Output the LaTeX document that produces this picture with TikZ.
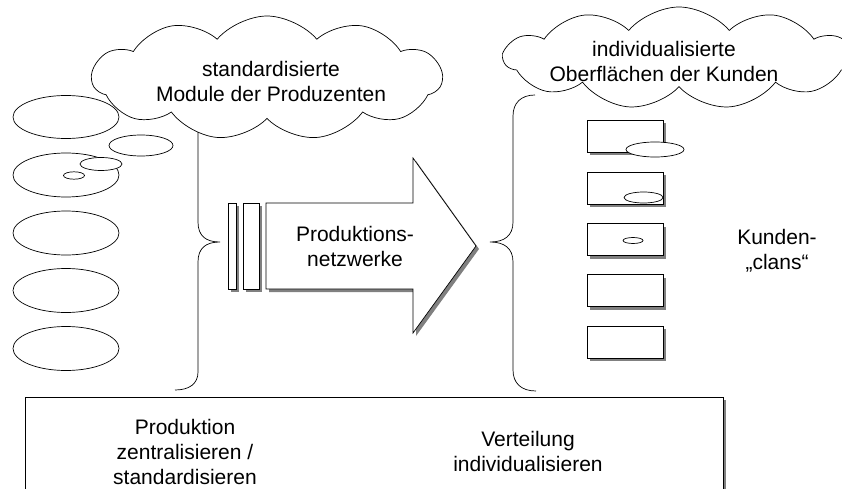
\documentclass[tikz,border=0pt]{standalone}
\usepackage{fontspec}
\setmainfont{Liberation Sans}
\usetikzlibrary{shapes.symbols,shadows}
\tikzset{
  lbl/.style={align=center,font=\fontsize{21}{25}\selectfont,inner sep=0pt},
  modul/.style={draw,fill=white},
  wolke/.style={cloud,cloud puffs=11,cloud puff arc=100,draw,fill=white,inner sep=0pt},
  schatten/.style={general shadow={fill=black!50,shadow xshift=3pt,shadow yshift=-3pt}},
  kunde/.style={draw,fill=white,schatten,minimum width=76pt,minimum height=32pt,inner sep=0pt},
}
\begin{document}
\begin{tikzpicture}[scale=1.000000,x=1pt,y=-1pt,line width=0.7pt]
\clip (0,0) rectangle (842,489);
\fill[white] (0,0) rectangle (842,489);
% Drawing module ellipses
\draw[modul] (66,117) ellipse (53pt and 21.5pt);
\draw[modul] (141,145.5) ellipse (32pt and 10.5pt);
\draw[modul] (66,175) ellipse (53pt and 22pt);
\draw[modul] (74,175.5) ellipse (10.5pt and 3.7pt);
\draw[modul] (101,164) ellipse (21pt and 6.5pt);
\foreach \y in {233,290.5,348.5}
  \draw[modul] (66,\y) ellipse (53pt and 22pt);
% Done with modules; drawing braces
\draw (198,130) -- (198,222) .. controls (198,236) and (206,242) .. (220,242)
  .. controls (206,242) and (198,248) .. (198,262) -- (198,372)
  .. controls (198,384) and (189,390) .. (175,390);
\draw (535,95) .. controls (521,95) and (513,103) .. (513,116) -- (513,222)
  .. controls (513,236) and (504,242) .. (490,242)
  .. controls (504,242) and (513,248) .. (513,262) -- (513,370)
  .. controls (513,383) and (521,391) .. (536,391);
% Done with braces; drawing clouds
\node[wolke,minimum width=350pt,minimum height=124pt] (prod) at (267,78) {};
\node[lbl] (prodtext) at (271,81) {standardisierte\\Module der Produzenten};
\node[wolke,minimum width=350pt,minimum height=102pt] (kund) at (679,58) {};
\node[lbl] (kundtext) at (664,61) {individualisierte\\Oberflächen der Kunden};
% Done with clouds; drawing the network arrow
\draw[fill=white,schatten] (228,203) rectangle (236,289);
\draw[fill=white,schatten] (243,203) rectangle (259,289);
\draw[fill=white,schatten] (266,203) -- (413,203) -- (413,158) -- (476,246)
  -- (413,333) -- (413,289) -- (266,289) -- cycle;
\node[lbl] (netz) at (355,246) {Produktions-\\netzwerke};
% Drawing customer surfaces
\foreach \i/\y in {1/136.5,2/188,3/239.5,4/290.5,5/342}
  \node[kunde] (k\i) at (625,\y) {};
\draw[modul] (655,149.5) ellipse (29pt and 7.5pt);
\draw[modul] (643.5,197.5) ellipse (19.5pt and 5.5pt);
\draw[modul] (633,240.5) ellipse (10pt and 3pt);
\node[lbl] (clans) at (777,251) {Kunden-\\„clans“};
% Drawing base panel
\draw[fill=white,schatten] (25,397) rectangle (723,520);
\node[lbl] (zentral) at (185,452) {Produktion\\zentralisieren /\\standardisieren};
\node[lbl] (verteil) at (528,451) {Verteilung\\individualisieren};
% Done
\end{tikzpicture}
\end{document}
